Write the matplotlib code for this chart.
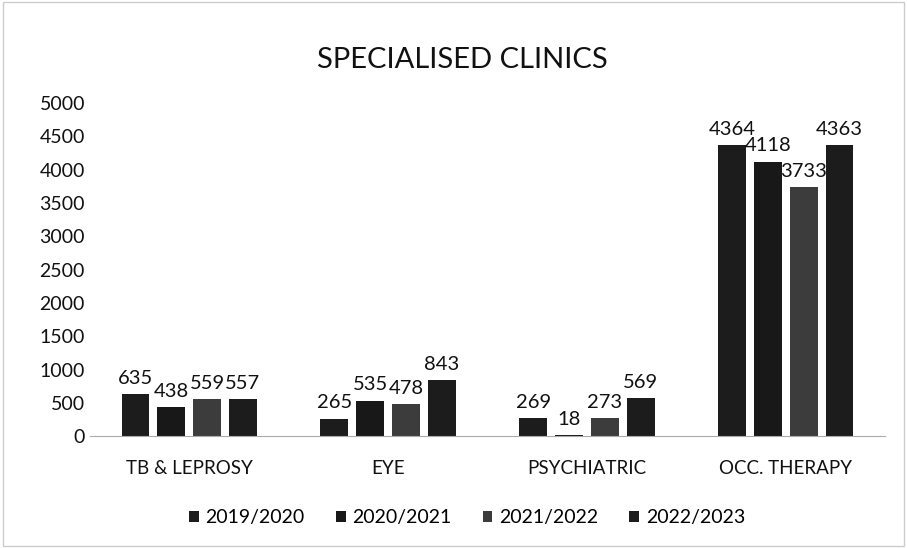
import matplotlib.pyplot as plt
import numpy as np

plt.rcParams['font.family'] = ['Lato', 'DejaVu Sans']

clinics = ['TB & LEPROSY', 'EYE', 'PSYCHIATRIC', 'OCC. THERAPY']
years = ['2019/2020', '2020/2021', '2021/2022', '2022/2023']
v2019 = [635, 265, 269, 4364]
v2020 = [438, 535, 18, 4118]
v2021 = [559, 478, 273, 3733]
v2022 = [557, 843, 569, 4363]
colors = ['#1c1c1c', '#181818', '#3c3c3c', '#1c1c1c']

fig = plt.figure(figsize=(9.07, 5.48), dpi=100)
ax = fig.add_axes([0.099, 0.204, 0.877, 0.608])

x = np.arange(len(clinics))
w = 0.14
step = 0.18
series = [v2019, v2020, v2021, v2022]
for i, vals in enumerate(series):
    pos = x + (i - 1.5) * step
    bars = ax.bar(pos, vals, w, color=colors[i], label=years[i])
    for b, v in zip(bars, vals):
        ax.text(b.get_x() + b.get_width() / 2, v + 110, str(v),
                ha='center', va='bottom', fontsize=14.5, color='#111111')

ax.set_xlim(-0.5, 3.5)
ax.set_ylim(0, 5000)
ax.set_yticks(range(0, 5001, 500))
ax.set_xticks(x)
ax.set_xticklabels(clinics, fontsize=13.5)
ax.tick_params(axis='both', length=0, colors='#111111')
ax.tick_params(axis='y', labelsize=14)
ax.tick_params(axis='x', pad=17)
for s in ['top', 'right', 'left']:
    ax.spines[s].set_visible(False)
ax.spines['bottom'].set_color('#aaaaaa')

fig.suptitle('SPECIALISED CLINICS', x=0.51, y=0.915, fontsize=21, color='#111111')
fig.legend(loc='center', bbox_to_anchor=(0.515, 0.055), ncol=4, frameon=False,
           fontsize=14, handlelength=0.5, handleheight=0.5, columnspacing=1.6,
           handletextpad=0.35)

fig.patches.append(plt.Rectangle((0.003, 0.003), 0.994, 0.994, transform=fig.transFigure,
                                 fill=False, edgecolor='#cccccc', linewidth=1))
fig.savefig('out.png', dpi=100)
